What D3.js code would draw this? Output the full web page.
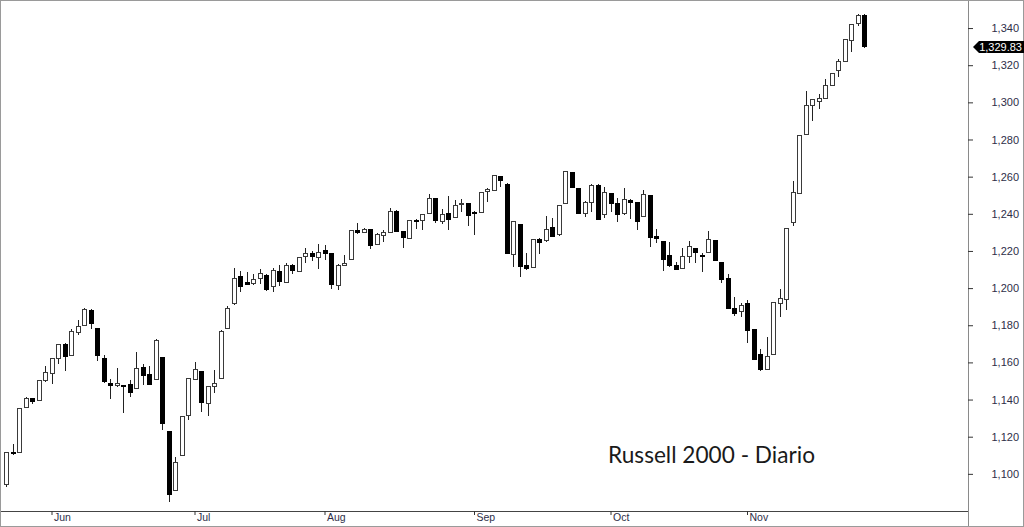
<!DOCTYPE html>
<html>
<head>
<meta charset="utf-8">
<script src="https://cdn.jsdelivr.net/npm/d3@7"></script>
<style>
  body { margin: 0; background: #fff; }
  svg { display: block; font-family: "Liberation Sans", Arial, sans-serif; }
  .axis text { fill: #2e2e48; font-size: 11px; }
  .axis path { display: none; }
  .axis line { stroke: #333; }
</style>
</head>
<body>
<div id="chart"></div>
<script>
const width = 1024;
const height = 527;
const plot = { left: 0, right: 968, top: 0, bottom: 511 };

// trading days, May 20 - Nov 28
const dates = [
  "05-20","05-23","05-24","05-25","05-26","05-27","05-31",
  "06-01","06-02","06-03","06-06","06-07","06-08","06-09","06-10","06-13","06-14","06-15","06-16","06-17","06-20","06-21","06-22","06-23","06-24","06-27","06-28","06-29","06-30",
  "07-01","07-05","07-06","07-07","07-08","07-11","07-12","07-13","07-14","07-15","07-18","07-19","07-20","07-21","07-22","07-25","07-26","07-27","07-28","07-29",
  "08-01","08-02","08-03","08-04","08-05","08-08","08-09","08-10","08-11","08-12","08-15","08-16","08-17","08-18","08-19","08-22","08-23","08-24","08-25","08-26","08-29","08-30","08-31",
  "09-01","09-02","09-06","09-07","09-08","09-09","09-12","09-13","09-14","09-15","09-16","09-19","09-20","09-21","09-22","09-23","09-26","09-27","09-28","09-29","09-30",
  "10-03","10-04","10-05","10-06","10-07","10-10","10-11","10-12","10-13","10-14","10-17","10-18","10-19","10-20","10-21","10-24","10-25","10-26","10-27","10-28","10-31",
  "11-01","11-02","11-03","11-04","11-07","11-08","11-09","11-10","11-11","11-14","11-15","11-16","11-17","11-18","11-21","11-22","11-23","11-25","11-28"
];

const open = [
  1094.4,1111.6,1111.6,1135.9,1140.3,1139.4,1150.0,1154.0,1162.2,1169.9,1163.8,1176.2,1180.0,1188.1,1178.0,1162.0,1148.8,1147.3,1147.6,1148.2,
  1145.7,1157.5,1153.6,1150.9,1162.4,1122.7,1091.3,1109.8,1131.3,1151.0,1154.9,1138.0,1146.8,1151.5,1178.4,1191.5,1206.5,1202.9,1202.6,1205.0,
  1207.0,1200.8,1208.7,1203.1,1212.4,1208.8,1216.9,1218.4,1216.4,1220.0,1218.4,1201.3,1212.3,1215.5,1231.0,1230.0,1231.4,1223.4,1228.4,1230.0,
  1241.5,1230.6,1226.6,1236.5,1236.5,1240.3,1248.0,1235.8,1239.9,1238.1,1245.0,1245.6,1240.5,1240.8,1251.9,1252.8,1260.0,1256.0,1218.2,1234.0,
  1212.4,1211.2,1226.4,1225.4,1232.7,1229.0,1245.6,1262.3,1253.4,1240.3,1246.2,1255.5,1239.4,1251.0,1245.6,1239.9,1247.4,1246.2,1238.8,1249.6,
  1227.7,1225.0,1217.3,1211.9,1210.7,1217.0,1221.4,1217.8,1219.3,1225.5,1213.9,1205.3,1189.1,1187.3,1191.5,1177.5,1164.0,1156.3,1164.0,1191.5,
  1194.0,1235.4,1251.0,1282.8,1298.4,1300.5,1302.2,1309.3,1316.9,1322.2,1333.2,1342.2,1347.0
];
const high = [
  1112.0,1116.0,1135.1,1141.6,1141.0,1150.0,1158.1,1162.2,1169.9,1170.2,1177.8,1182.8,1189.1,1188.6,1178.5,1163.8,1151.0,1156.8,1148.0,1150.5,
  1165.8,1159.0,1158.1,1172.4,1162.8,1123.0,1109.3,1131.0,1151.8,1160.0,1155.2,1147.2,1156.0,1177.2,1190.4,1211.0,1209.4,1208.9,1207.6,1210.1,
  1207.5,1210.7,1212.4,1213.3,1212.8,1217.0,1221.4,1220.1,1223.8,1223.2,1218.8,1212.8,1217.8,1231.5,1234.9,1232.5,1231.8,1229.5,1231.3,1243.3,
  1241.8,1231.0,1236.8,1237.0,1239.8,1250.7,1248.3,1242.4,1249.7,1247.4,1247.8,1246.0,1241.5,1252.0,1254.0,1260.8,1260.4,1256.4,1235.9,1234.4,
  1218.7,1226.6,1226.8,1239.0,1237.6,1244.7,1263.0,1262.6,1253.7,1247.0,1255.8,1255.8,1254.6,1251.3,1248.7,1253.7,1247.7,1246.5,1252.8,1250.0,
  1231.8,1225.3,1225.0,1214.2,1221.4,1225.5,1221.7,1218.7,1230.9,1225.8,1214.2,1207.4,1195.4,1192.0,1193.6,1177.8,1167.1,1173.9,1192.5,1199.4,
  1232.5,1257.7,1282.2,1306.3,1301.9,1304.3,1312.6,1315.9,1323.1,1334.2,1342.3,1347.3,1347.3
];
const low = [
  1093.0,1110.4,1111.0,1135.5,1137.6,1139.0,1149.5,1148.2,1159.3,1155.6,1163.5,1174.6,1179.8,1177.8,1161.0,1149.0,1140.5,1147.0,1132.6,1141.2,
  1145.5,1147.9,1148.0,1150.5,1123.6,1085.0,1091.0,1109.5,1129.0,1150.8,1133.2,1131.2,1143.4,1151.2,1178.0,1191.0,1197.8,1201.8,1201.7,1202.2,
  1198.6,1198.1,1201.3,1202.8,1207.4,1208.5,1213.3,1214.8,1210.3,1215.1,1199.4,1199.0,1212.0,1215.2,1229.0,1229.5,1220.9,1223.0,1224.8,1229.8,
  1230.4,1221.6,1226.3,1231.7,1231.5,1240.0,1235.2,1234.5,1231.3,1237.8,1241.1,1233.4,1228.6,1240.5,1246.5,1252.5,1254.6,1218.4,1211.5,1205.8,
  1209.8,1210.9,1218.4,1225.0,1227.6,1228.0,1245.3,1254.0,1240.0,1238.4,1241.1,1236.7,1237.9,1241.1,1235.8,1239.6,1237.0,1231.3,1238.5,1222.3,
  1224.1,1209.4,1211.6,1209.5,1210.4,1213.7,1213.3,1208.9,1219.0,1214.8,1202.6,1189.0,1185.2,1184.6,1170.6,1161.5,1155.6,1156.0,1163.8,1184.6,
  1188.2,1233.6,1250.7,1282.5,1290.1,1296.4,1302.0,1309.0,1313.8,1321.9,1327.2,1341.0,1329.5
];
const close = [
  1111.4,1110.7,1135.1,1140.3,1139.1,1150.0,1154.3,1162.2,1169.9,1163.1,1176.4,1179.5,1188.6,1180.7,1163.5,1149.6,1147.3,1148.8,1147.2,1143.9,
  1156.8,1153.2,1148.2,1171.9,1126.9,1088.7,1106.3,1130.8,1151.5,1156.3,1138.5,1146.9,1148.8,1176.9,1189.1,1205.3,1201.1,1202.0,1204.7,1207.6,
  1199.5,1209.4,1203.3,1212.4,1209.4,1216.6,1218.4,1216.9,1219.3,1218.7,1201.7,1212.4,1213.4,1231.1,1229.9,1231.4,1223.0,1229.1,1229.9,1241.5,
  1230.7,1227.0,1236.5,1235.6,1239.5,1248.5,1236.5,1239.4,1237.2,1244.4,1245.4,1239.3,1240.3,1251.6,1253.2,1260.5,1257.8,1218.7,1235.6,1211.5,
  1210.7,1226.3,1224.4,1231.8,1228.0,1244.4,1262.7,1254.3,1240.3,1246.2,1255.5,1237.0,1251.4,1245.3,1239.4,1247.8,1246.0,1235.8,1250.5,1227.4,
  1226.6,1215.5,1211.9,1209.8,1217.0,1222.3,1219.3,1217.4,1225.9,1215.1,1204.4,1189.1,1186.4,1190.9,1177.1,1161.7,1156.3,1163.1,1192.2,1194.5,
  1232.2,1251.4,1281.9,1298.4,1301.6,1302.0,1309.3,1315.6,1321.9,1333.9,1342.0,1347.0,1329.83
];

const y_ticks = [1100, 1120, 1140, 1160, 1180, 1200, 1220, 1240, 1260, 1280, 1300, 1320, 1340];
const month_starts = ["06-01", "07-01", "08-01", "09-01", "10-03", "11-01"];
const month_labels = ["Jun", "Jul", "Aug", "Sep", "Oct", "Nov"];
const last_value = 1329.83;
const title = "Russell 2000 - Diario";

const candles = dates.map((d, i) => ({ date: d, o: open[i], h: high[i], l: low[i], c: close[i] }));

const x_scale = d3.scalePoint()
  .domain(dates)
  .range([6, 864]);
const y_scale = d3.scaleLinear()
  .domain([1080, 1355.1])
  .range([plot.bottom, plot.top]);

const svg = d3.select('#chart')
  .append('svg')
    .attr('width', width)
    .attr('height', height);

svg.append('rect')
  .attr('width', width)
  .attr('height', height)
  .attr('fill', '#fff');

// candles
const g = svg.append('g').attr('shape-rendering', 'crispEdges');
const body_w = 5;

g.selectAll('.wick')
    .data(candles)
  .join('line')
    .attr('class', 'wick')
    .attr('x1', d => Math.round(x_scale(d.date)) + 0.5)
    .attr('x2', d => Math.round(x_scale(d.date)) + 0.5)
    .attr('y1', d => y_scale(d.h))
    .attr('y2', d => y_scale(d.l))
    .attr('stroke', '#222')
    .attr('stroke-width', 1);

g.selectAll('.body')
    .data(candles)
  .join('rect')
    .attr('class', 'body')
    .attr('x', d => Math.round(x_scale(d.date)) - 2)
    .attr('width', body_w - 1)
    .attr('y', d => y_scale(Math.max(d.o, d.c)))
    .attr('height', d => Math.max(1, Math.abs(y_scale(d.o) - y_scale(d.c))))
    .attr('fill', d => d.c < d.o ? '#000' : '#fff')
    .attr('stroke', d => d.c < d.o ? '#000' : '#3a3a3a')
    .attr('stroke-width', 1);

// frame
svg.append('line')
  .attr('x1', 0).attr('x2', plot.right)
  .attr('y1', plot.bottom + 0.5).attr('y2', plot.bottom + 0.5)
  .attr('stroke', '#444');
svg.append('line')
  .attr('x1', plot.right + 0.5).attr('x2', plot.right + 0.5)
  .attr('y1', 0).attr('y2', height)
  .attr('stroke', '#8a8a8a');
svg.append('rect')
  .attr('x', 0.5).attr('y', 0.5)
  .attr('width', width - 1).attr('height', height - 1)
  .attr('fill', 'none')
  .attr('stroke', '#9a9a9a');

// y axis on the right
const y_axis = svg.append('g')
  .attr('class', 'axis')
  .attr('transform', `translate(${plot.right},0)`)
  .call(d3.axisRight(y_scale)
    .tickValues(y_ticks)
    .tickSize(5)
    .tickFormat(d3.format(',')));
y_axis.selectAll('text')
  .attr('text-anchor', 'end')
  .attr('x', 51);

// x axis, month starts
const x_axis = svg.append('g')
  .attr('class', 'axis')
  .attr('transform', `translate(0,${plot.bottom})`)
  .call(d3.axisBottom(x_scale)
    .tickValues(month_starts)
    .tickSize(4)
    .tickFormat((d, i) => month_labels[i]));
x_axis.selectAll('text')
  .attr('text-anchor', 'start')
  .attr('x', 2)
  .attr('y', 3)
  .attr('dy', '0.71em')
  .style('font-size', '10.5px');

// last value tag
const ty = y_scale(last_value);
svg.append('path')
  .attr('d', `M${plot.right + 5},${ty} L${plot.right + 11},${ty - 6} L${width},${ty - 6} L${width},${ty + 6} L${plot.right + 11},${ty + 6} Z`)
  .attr('fill', '#000');
svg.append('text')
  .attr('x', width - 2)
  .attr('y', ty)
  .attr('dy', '0.35em')
  .attr('text-anchor', 'end')
  .attr('fill', '#fff')
  .style('font-size', '11px')
  .text(d3.format(',.2f')(last_value));

// title
svg.append('text')
  .attr('x', 608)
  .attr('y', 463)
  .attr('fill', '#1a1a1a')
  .attr('textLength', 207)
  .attr('lengthAdjust', 'spacingAndGlyphs')
  .style('font-family', 'Lato, "Open Sans", sans-serif')
  .style('font-size', '23px')
  .text(title);
</script>
</body>
</html>
